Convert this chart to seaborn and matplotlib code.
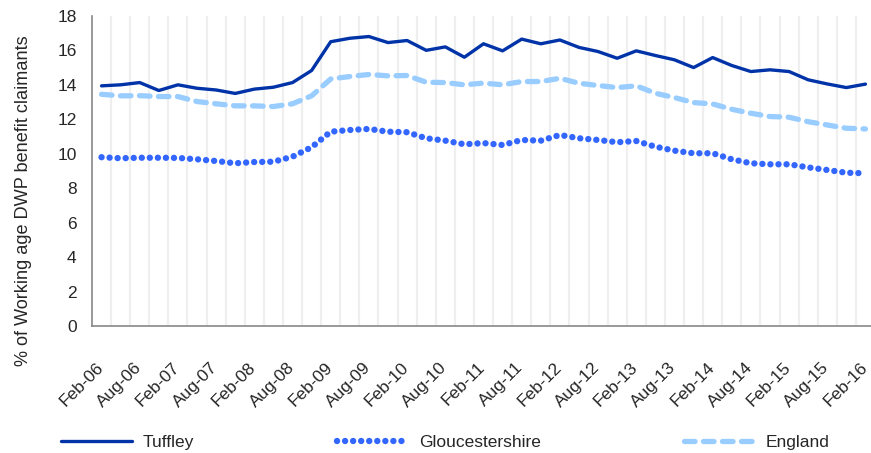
import matplotlib
matplotlib.use("Agg")
import matplotlib.pyplot as plt
import matplotlib.transforms as mtransforms
import pandas as pd
import seaborn as sns

months = []
for yr in range(6, 17):
    for m in ["Feb", "May", "Aug", "Nov"]:
        months.append(f"{m}-{yr:02d}")
months = months[:41]

tuffley = [13.94, 14.0, 14.13, 13.67, 14.0, 13.8, 13.7, 13.5, 13.75, 13.86,
           14.13, 14.83, 16.5, 16.7, 16.8, 16.45, 16.57, 16.0, 16.2, 15.6,
           16.38, 15.97, 16.65, 16.38, 16.6, 16.17, 15.93, 15.54, 15.97, 15.7,
           15.45, 15.0, 15.58, 15.12, 14.77, 14.87, 14.77, 14.29, 14.05, 13.84,
           14.04]
glos = [9.8, 9.74, 9.77, 9.77, 9.76, 9.68, 9.58, 9.45, 9.52, 9.54,
        9.83, 10.38, 11.28, 11.38, 11.44, 11.28, 11.25, 10.9, 10.76, 10.55,
        10.62, 10.51, 10.8, 10.76, 11.09, 10.9, 10.8, 10.67, 10.74, 10.41,
        10.18, 10.03, 10.03, 9.68, 9.45, 9.39, 9.39, 9.21, 9.06, 8.9,
        8.87]
england = [13.45, 13.36, 13.37, 13.32, 13.32, 13.03, 12.9, 12.78, 12.78, 12.74,
           12.9, 13.36, 14.34, 14.48, 14.6, 14.52, 14.54, 14.15, 14.13, 14.0,
           14.1, 14.0, 14.19, 14.19, 14.38, 14.09, 13.96, 13.84, 13.94, 13.51,
           13.26, 12.97, 12.89, 12.58, 12.35, 12.16, 12.12, 11.86, 11.67, 11.48,
           11.44]

df = pd.DataFrame({"month": months, "Tuffley": tuffley,
                   "Gloucestershire": glos, "England": england})

sns.set_style("white")
plt.rcParams["font.family"] = ["Liberation Sans", "DejaVu Sans"]
fs = 12.5

fig = plt.figure(figsize=(8.71, 4.53), dpi=100)
# right edge of the plot runs just past the figure, as in the source
ax = fig.add_axes([0.1056, 0.280, 0.8990, 0.685])

sns.lineplot(data=df, x="month", y="England", ax=ax, color="#99ccff", lw=3.8,
             sort=False, label="England", zorder=3,
             linestyle=(0, (2.0, 1.6)), dash_capstyle="round")
sns.lineplot(data=df, x="month", y="Gloucestershire", ax=ax, color="#3366ff", lw=4.6,
             sort=False, label="Gloucestershire", zorder=4,
             linestyle=(0, (0.01, 1.25)), dash_capstyle="round")
sns.lineplot(data=df, x="month", y="Tuffley", ax=ax, color="#0033a8", lw=2.4,
             sort=False, label="Tuffley", zorder=5)

n = len(months)
ax.set_xlim(-0.5, n - 0.5)
ax.set_ylim(0, 18)
ax.set_yticks(range(0, 19, 2))

# category boundaries for grid and ticks
bounds = [i - 0.5 for i in range(n + 1)]
for b in bounds[1:-1]:
    ax.axvline(b, color="#efefef", lw=1.6, zorder=0)
ax.set_xticks(bounds, minor=True)
ax.set_xticks(range(0, n, 2))
ax.set_xticklabels(months[::2], rotation=45, ha="right", rotation_mode="anchor",
                   fontsize=fs)
ax.tick_params(axis="x", which="major", length=0, pad=24)
ax.tick_params(axis="x", which="minor", length=4, color="#888888", direction="out")
ax.tick_params(axis="y", length=4, color="#888888", labelsize=fs, pad=7)
# nudge the rotated labels left so the last one stays inside
shift = mtransforms.ScaledTranslation(-6 / 100, 0, fig.dpi_scale_trans)
for tick in ax.xaxis.get_major_ticks():
    tick.label1.set_transform(tick.label1.get_transform() + shift)

for s in ["top", "right"]:
    ax.spines[s].set_visible(False)
for s in ["left", "bottom"]:
    ax.spines[s].set_color("#888888")
    ax.spines[s].set_linewidth(1.2)

ax.set_xlabel("")
ax.set_ylabel("% of Working age DWP benefit claimants", fontsize=13.1)
ax.yaxis.set_label_coords(-0.077, 0.403)

handles, labels = ax.get_legend_handles_labels()
ax.get_legend().remove()
order = [labels.index(k) for k in ["Tuffley", "Gloucestershire", "England"]]
fig.legend([handles[i] for i in order], [labels[i] for i in order],
           loc="center left", bbox_to_anchor=(0.052, 0.024), ncol=3, frameon=False,
           fontsize=fs, handlelength=4.1, handletextpad=0.6, columnspacing=8.26)

fig.savefig("out.png", dpi=100)
